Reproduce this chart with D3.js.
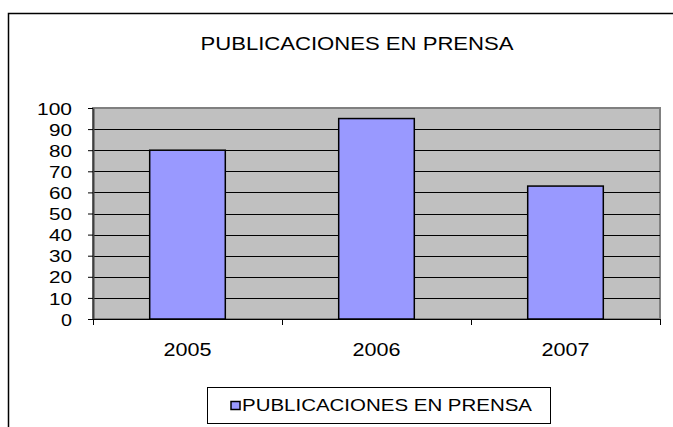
<!DOCTYPE html>
<html><head><meta charset="utf-8">
<script src="https://cdn.jsdelivr.net/npm/d3@7"></script>
<style>body{margin:0;background:#fff;} svg{display:block;} text{font-family:"Liberation Sans",Arial,sans-serif;}</style>
</head><body>
<script>
const categories = ["2005","2006","2007"];
const values = [80, 95, 63];
const yTicks = [0,10,20,30,40,50,60,70,80,90,100];
const title = "PUBLICACIONES EN PRENSA";
const seriesName = "PUBLICACIONES EN PRENSA";

const W = 673, H = 427;
const svg = d3.select("body").append("svg").attr("width", W).attr("height", H);

// outer chart border
svg.append("rect").attr("x", 8.5).attr("y", 13.5).attr("width", 700).attr("height", 500)
  .attr("fill", "#fff").attr("stroke", "#000").attr("stroke-width", 1.5);

const L = 93, R = 660, T = 108, B = 319;
const xb = d3.scaleBand().domain(categories).range([L, R]);
const y = d3.scaleLinear().domain([0, 100]).range([B, T]);

// plot background
svg.append("rect").attr("x", L).attr("y", T).attr("width", R - L).attr("height", B - T)
  .attr("fill", "#c0c0c0").attr("stroke", "#808080").attr("stroke-width", 2);

// gridlines
svg.append("g").selectAll("line").data(yTicks.filter(d => d > 0 && d < 100)).join("line")
  .attr("x1", L).attr("x2", R).attr("y1", d => Math.round(y(d)) + 0.5).attr("y2", d => Math.round(y(d)) + 0.5)
  .attr("stroke", "#000").attr("stroke-width", 1);

// bars
const bw = xb.bandwidth() / 2.5;
svg.append("g").selectAll("rect").data(values).join("rect")
  .attr("x", (d, i) => xb(categories[i]) + (xb.bandwidth() - bw) / 2)
  .attr("y", d => y(d))
  .attr("width", bw)
  .attr("height", d => B - y(d))
  .attr("fill", "#9999ff").attr("stroke", "#000").attr("stroke-width", 1.5);

// y axis
const yAxis = d3.axisLeft(y).tickValues(yTicks).tickSize(5).tickSizeOuter(0);
const gy = svg.append("g").attr("transform", `translate(${L},0)`).call(yAxis);
gy.select(".domain").attr("stroke", "#404040").attr("stroke-width", 2);
gy.selectAll(".tick line").attr("stroke", "#000");
gy.selectAll(".tick text").attr("font-size", 17).attr("fill", "#000").attr("x", -21).attr("dy", "0.36em")
  .attr("textLength", d => String(d).length === 3 ? 35 : (String(d).length === 2 ? 23 : 11))
  .attr("lengthAdjust", "spacingAndGlyphs");

// x axis line with boundary ticks
const gx = svg.append("g");
gx.append("line").attr("x1", L).attr("x2", R).attr("y1", B + 0.5).attr("y2", B + 0.5).attr("stroke", "#000");
const bounds = categories.map(c => xb(c)).concat([R]);
gx.selectAll("line.tk").data(bounds).join("line").attr("class", "tk")
  .attr("x1", d => d + 0.5).attr("x2", d => d + 0.5).attr("y1", B).attr("y2", B + 6).attr("stroke", "#000");
gx.selectAll("text").data(categories).join("text")
  .attr("x", d => xb(d) + xb.bandwidth() / 2).attr("y", 356)
  .attr("text-anchor", "middle").attr("font-size", 17.5).attr("fill", "#000")
  .attr("textLength", 48).attr("lengthAdjust", "spacingAndGlyphs").text(d => d);

// title
svg.append("text").attr("x", 357).attr("y", 50).attr("text-anchor", "middle")
  .attr("font-size", 18).attr("fill", "#000")
  .attr("textLength", 313).attr("lengthAdjust", "spacingAndGlyphs").text(title);

// legend
svg.append("rect").attr("x", 207.5).attr("y", 387.5).attr("width", 343).attr("height", 36)
  .attr("fill", "#fff").attr("stroke", "#000").attr("stroke-width", 1);
svg.append("rect").attr("x", 231).attr("y", 401.5).attr("width", 9).attr("height", 8)
  .attr("fill", "#9999ff").attr("stroke", "#000").attr("stroke-width", 1.5);
svg.append("text").attr("x", 242).attr("y", 411).attr("font-size", 16.5).attr("fill", "#000")
  .attr("textLength", 290).attr("lengthAdjust", "spacingAndGlyphs").text(seriesName);
</script>
</body></html>
